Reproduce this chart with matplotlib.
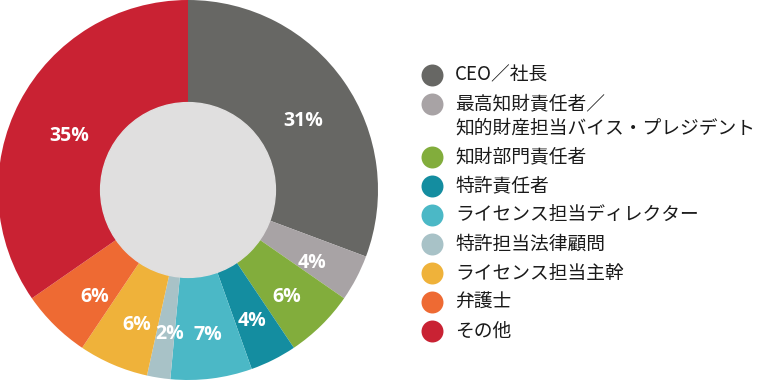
import matplotlib.pyplot as plt
from matplotlib.patches import Circle

plt.rcParams['font.family'] = ['Noto Sans CJK JP', 'DejaVu Sans']

labels = ['CEO／社長',
          '最高知財責任者／\n知的財産担当バイス・プレジデント',
          '知財部門責任者',
          '特許責任者',
          'ライセンス担当ディレクター',
          '特許担当法律顧問',
          'ライセンス担当主幹',
          '弁護士',
          'その他']
values = [31, 4, 6, 4, 7, 2, 6, 6, 35]
colors = ['#676764', '#a8a3a5', '#82ad3c', '#148da0', '#4bb8c6',
          '#a8c2c7', '#efb23a', '#ee6a33', '#c92233']

fig = plt.figure(figsize=(7.58, 3.8), dpi=100)
ax = fig.add_axes([-2 / 758, 0.0, 380 / 758, 1.0])

total = sum(values)
wedges, texts, autotexts = ax.pie(
    values, colors=colors, startangle=90, counterclock=False,
    radius=1.0, pctdistance=0.72,
    autopct=lambda p: '%d%%' % round(p * total / 100),
    wedgeprops=dict(linewidth=0),
    textprops=dict(color='white', fontsize=14, fontweight='bold',
                   family=['Open Sans', 'DejaVu Sans']))
for t in autotexts:
    t.set_va('center_baseline')
    x0, y0 = t.get_position()
    t.set_position((x0 + 0.015, y0 - 0.035))
ax.add_patch(Circle((0, 0), 0.46, color='#e0dfdf', zorder=5))
ax.set_xlim(-1.0, 1.0)
ax.set_ylim(-1.0, 1.0)
ax.set_aspect('equal')
ax.axis('off')

# legend drawn by hand so the two-line entry keeps its marker on the first line
lax = fig.add_axes([0, 0, 1, 1])
lax.set_xlim(0, 758)
lax.set_ylim(380, 0)
lax.axis('off')
y = 75
for lab, c in zip(labels, colors):
    lax.scatter([432], [y], s=250, color=c, linewidths=0)
    for j, line in enumerate(lab.split('\n')):
        lax.text(455, y + 24 * j, line, fontsize=13.5, va='center', ha='left',
                 color='#1a1a1a')
    y += 29 + 24 * lab.count('\n')

fig.savefig('out.png', dpi=100)
